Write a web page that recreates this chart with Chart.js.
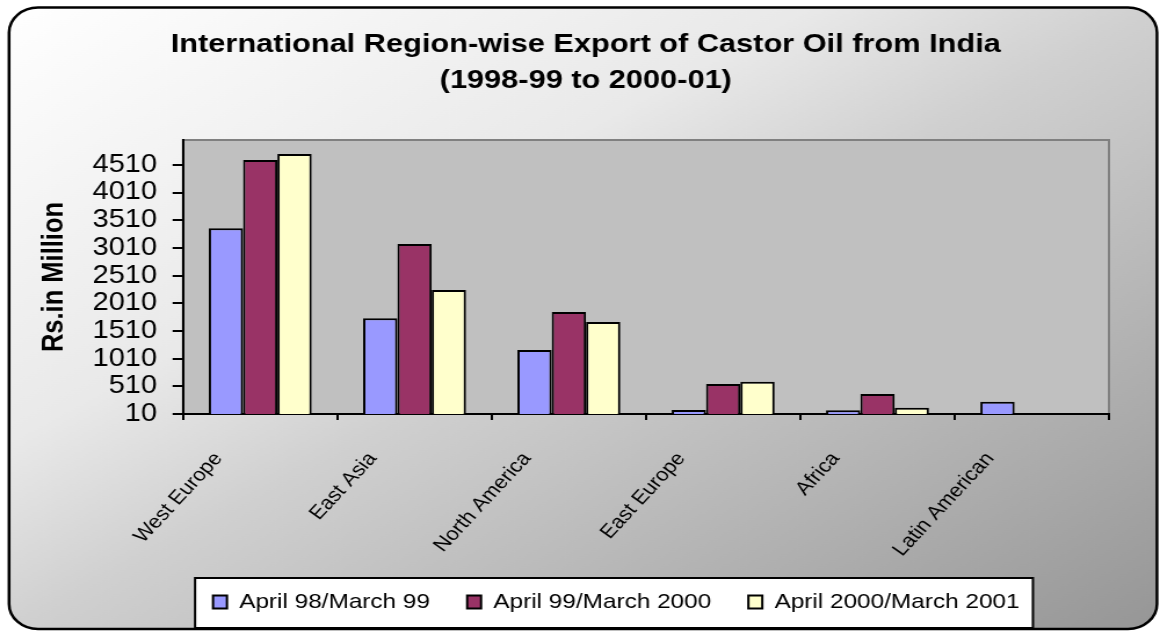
<!DOCTYPE html>
<html>
<head>
<meta charset="utf-8">
<title>International Region-wise Export of Castor Oil from India</title>
<script src="https://cdn.jsdelivr.net/npm/chart.js@4.4.0/dist/chart.umd.min.js"></script>
<style>
    html, body { margin: 0; padding: 0; background: #fff; overflow: hidden; }
    /* gambar asli sedikit melebar ke samping, jadi kanvas direntangkan */
    #wrap { width: 1000px; height: 632px; transform: scaleX(1.16); transform-origin: 0 0; }
</style>
</head>
<body>
<div id="wrap"><canvas id="grafikEkspor" width="1000" height="632"></canvas></div>
<script>
// Data ekspor (Rs. juta)
const wilayah = ['West Europe', 'East Asia', 'North America', 'East Europe', 'Africa', 'Latin American'];
const periode = ['April 98/March 99', 'April 99/March 2000', 'April 2000/March 2001'];
const ekspor9899 = [3366, 1739, 1166, 82, 80, 232];
const ekspor9900 = [4600, 3082, 1853, 552, 371, 0];
const ekspor0001 = [4708, 2251, 1672, 594, 124, 0];
const tickY = [10, 510, 1010, 1510, 2010, 2510, 3010, 3510, 4010, 4510];
const warna = ['#9999FF', '#993366', '#FFFFCC'];

Chart.defaults.font.family = "'Liberation Sans', Arial, sans-serif";
Chart.defaults.color = '#000';

function kotakBulat(ctx, x, y, w, h, r) {
    ctx.beginPath();
    ctx.moveTo(x + r, y);
    ctx.arcTo(x + w, y, x + w, y + h, r);
    ctx.arcTo(x + w, y + h, x, y + h, r);
    ctx.arcTo(x, y + h, x, y, r);
    ctx.arcTo(x, y, x + w, y, r);
    ctx.closePath();
}

// Latar belakang: panel bergradasi, area plot abu-abu, kotak legenda
const latarPlugin = {
    id: 'latar',
    beforeDraw(chart) {
        const ctx = chart.ctx;
        const ca = chart.chartArea;
        ctx.save();

        const x0 = 7.8, y0 = 7.5, x1 = 997.4, y1 = 629;
        kotakBulat(ctx, x0, y0, x1 - x0, y1 - y0, 25);
        ctx.save();
        ctx.translate(x0, y0);
        ctx.scale(x1 - x0, y1 - y0);
        const g = ctx.createLinearGradient(0, 0, 1, 1);
        g.addColorStop(0, '#ffffff');
        g.addColorStop(0.35, '#e9e9e9');
        g.addColorStop(0.5, '#d0d0d0');
        g.addColorStop(1, '#969696');
        ctx.fillStyle = g;
        ctx.fill();
        ctx.restore();
        ctx.lineWidth = 2.5;
        ctx.strokeStyle = '#000';
        ctx.stroke();

        ctx.fillStyle = '#c0c0c0';
        ctx.fillRect(ca.left, ca.top, ca.width, ca.height);
        ctx.strokeStyle = '#808080';
        ctx.lineWidth = 2;
        ctx.strokeRect(ca.left, ca.top, ca.width, ca.height);

        const hb = chart.legend.legendHitBoxes;
        if (hb && hb.length) {
            const akhir = hb[hb.length - 1];
            const kiri = hb[0].left - 15.5;
            const kanan = akhir.left + akhir.width + 11.5;
            const tengah = hb[0].top + hb[0].height / 2 + 1;
            ctx.fillStyle = '#fff';
            ctx.fillRect(kiri, tengah - 25, kanan - kiri, 50);
            ctx.strokeStyle = '#000';
            ctx.lineWidth = 2;
            ctx.strokeRect(kiri, tengah - 25, kanan - kiri, 50);
        }
        ctx.restore();
    },
    afterLayout(chart) {
        // geser legenda & judul agar posisinya sama dengan gambar asli
        const lg = chart.legend;
        lg.left += 37.3;
        lg.right += 37.3;
        lg.top -= 9.5;
        lg.bottom -= 9.5;
        const tt = chart.titleBlock;
        if (tt) {
            tt.left += 11;
            tt.right += 11;
        }
    }
};

const ctx = document.getElementById('grafikEkspor').getContext('2d');
new Chart(ctx, {
    type: 'bar',
    data: {
        labels: wilayah,
        datasets: [ekspor9899, ekspor9900, ekspor0001].map((data, i) => ({
            label: periode[i],
            data: data,
            backgroundColor: warna[i],
            borderColor: '#000',
            borderWidth: 2,
            barPercentage: 1,
            categoryPercentage: 0.667
        }))
    },
    options: {
        responsive: false,
        animation: false,
        devicePixelRatio: 1,
        events: [],
        layout: {
            padding: { top: 10, left: 32, right: 44, bottom: 0 }
        },
        plugins: {
            title: {
                display: true,
                text: ['International Region-wise Export of Castor Oil from India', '(1998-99 to 2000-01)'],
                color: '#000',
                font: { size: 26.5, weight: 'bold', lineHeight: 36 / 26.5 },
                padding: { top: 17, bottom: 41 }
            },
            legend: {
                position: 'bottom',
                labels: {
                    color: '#000',
                    font: { size: 21 },
                    boxWidth: 12,
                    boxHeight: 13,
                    padding: 32
                }
            },
            tooltip: { enabled: false }
        },
        scales: {
            x: {
                afterFit: s => { s.height = 155; },
                ticks: {
                    autoSkip: false,
                    minRotation: 51,
                    maxRotation: 51,
                    color: '#000',
                    font: { size: 19 },
                    padding: 28,
                    labelOffset: -36
                },
                grid: { offset: true, drawOnChartArea: false, tickLength: 6, color: '#000', lineWidth: 2 },
                border: { color: '#000', width: 2 }
            },
            y: {
                min: 10,
                max: 4960,
                afterBuildTicks: s => { s.ticks = tickY.map(v => ({ value: v })); },
                afterFit: s => { s.width = 125.8; },
                ticks: {
                    autoSkip: false,
                    color: '#000',
                    font: { size: 25 },
                    padding: 13.4,
                    callback: v => String(v)
                },
                grid: { drawOnChartArea: false, tickLength: 9, color: '#000', lineWidth: 2 },
                border: { color: '#000', width: 2 },
                title: {
                    display: true,
                    text: 'Rs.in Million',
                    color: '#000',
                    font: { size: 25.5, weight: 'bold' },
                    padding: 0
                }
            }
        }
    },
    plugins: [latarPlugin]
});
</script>
</body>
</html>
